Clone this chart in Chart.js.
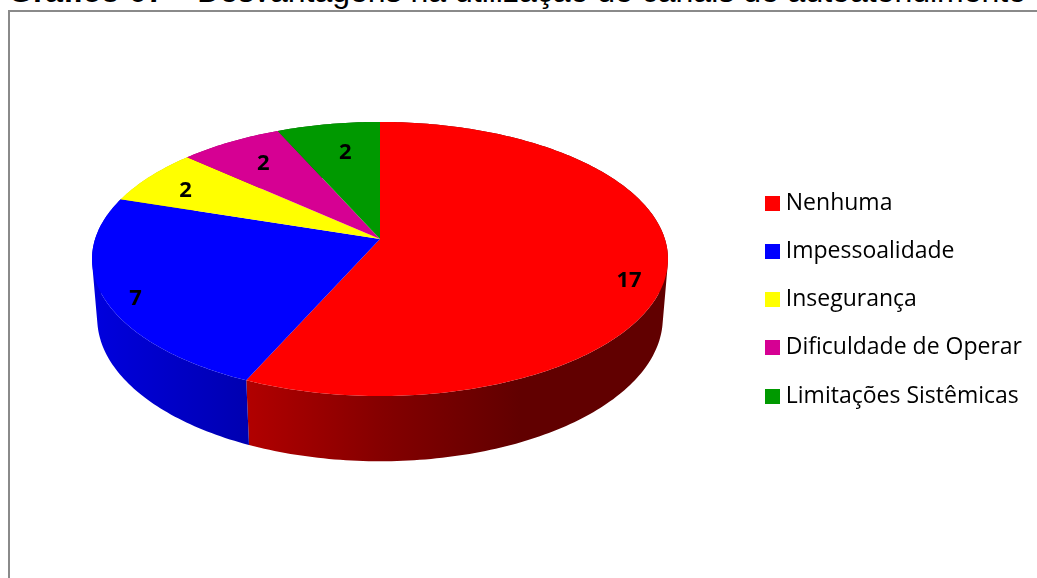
<!DOCTYPE html>
<html><head><meta charset="utf-8">
<style>
html,body{margin:0;padding:0;background:#fff;overflow:hidden;width:1037px;height:578px}
#frame{position:absolute;left:7.5px;top:10px;width:1200px;height:800px;border:2px solid #8a8a8a;box-sizing:border-box}
.t{position:absolute;top:-27px;white-space:nowrap;font:32px "Liberation Sans",Arial,sans-serif;color:#000}
canvas{position:absolute;left:0;top:0}
</style>
<script src="https://cdn.jsdelivr.net/npm/chart.js@4/dist/chart.umd.js"></script>
</head><body>
<div id="frame"></div>
<div class="t" style="left:8px;font-weight:bold">Gráfico 07</div>
<div class="t" style="left:197px">Desvantagens na utilização de canais de autoatendimento</div>
<canvas id="c" width="1037" height="578"></canvas>
<script>
const categories = ['Nenhuma','Impessoalidade','Insegurança','Dificuldade de Operar','Limitações Sistêmicas'];
const values = [17,7,2,2,2];
const colors = ['#ff0000','#0000ff','#ffff00','#d60093','#009900'];

// projection of the pie disc (style, not data)
const P = {cx:380, cy:239, A:284.9, B:134.1, p:0.146, q:0.018, H:59.7};
function proj(a, r, low){
  const u=Math.cos(a)*r, v=Math.sin(a)*r;
  const w=1-P.p*v+(low?P.q:0);
  return [P.cx+P.A*u/w, P.cy+(P.B*v+(low?P.H:0))/w];
}
const labelPlace = [[.87,0,17],[.89,0,8],[.85,3,5],[.76,0,0],[.7,3,-3]];
const shade = [[92,.87],[250,.69],[380,.52],[520,.38],[668,.38]];
const rgb = c=>[1,3,5].map(i=>parseInt(c.substr(i,2),16));
const area = q=>q.reduce((s,p,i)=>{const n=q[(i+1)%q.length];return s+p[0]*n[1]-n[0]*p[1];},0);

const pie3d = {
  id:'pie3d',
  beforeDatasetsDraw(chart){
    const ctx=chart.ctx, arcs=chart.getDatasetMeta(0).data;
    const STEP=Math.PI/180;
    const pts=(a0,a1,low)=>{const out=[],n=Math.max(2,Math.ceil((a1-a0)/STEP));
      for(let i=0;i<=n;i++) out.push(proj(a0+(a1-a0)*i/n,1,low)); return out;};
    // side wall: thin strips of one winding, filled as a single path
    arcs.forEach((arc,i)=>{
      const {startAngle:a0,endAngle:a1}=arc;
      const top=pts(a0,a1,false), bot=pts(a0,a1,true);
      const g=ctx.createLinearGradient(92,0,668,0), c=rgb(colors[i]);
      shade.forEach(([x,f])=>g.addColorStop((x-92)/576,`rgb(${c.map(k=>Math.round(k*f)).join(',')})`));
      ctx.beginPath();
      for(let k=0;k<top.length-1;k++){
        const q=[top[k],top[k+1],bot[k+1],bot[k]];
        if(area(q)<0) q.reverse();
        q.forEach(([x,y],j)=>j?ctx.lineTo(x,y):ctx.moveTo(x,y));
        ctx.closePath();
      }
      ctx.fillStyle=g; ctx.fill('nonzero');
    });
    // top face
    arcs.forEach((arc,i)=>{
      ctx.beginPath(); ctx.moveTo(P.cx,P.cy);
      pts(arc.startAngle,arc.endAngle,false).forEach(([x,y])=>ctx.lineTo(x,y));
      ctx.closePath(); ctx.fillStyle=colors[i]; ctx.fill();
    });
    // value labels
    ctx.font='bold 22px "Open Sans"'; ctx.fillStyle='#000';
    ctx.textAlign='center'; ctx.textBaseline='middle';
    arcs.forEach((arc,i)=>{
      const [r,dx,dy]=labelPlace[i];
      const [x,y]=proj((arc.startAngle+arc.endAngle)/2,r,false);
      ctx.fillText(String(values[i]),x+dx,y+dy);
    });
    return false;
  }
};

function swatch(color){
  const s=document.createElement('canvas'); s.width=15; s.height=15;
  const t=s.getContext('2d'); t.fillStyle=color; t.fillRect(0,0,15,15); return s;
}
const swatches = colors.map(swatch);

Chart.defaults.font.family='"Open Sans"';
new Chart(document.getElementById('c'),{
  type:'pie',
  data:{labels:categories,datasets:[{data:values,backgroundColor:colors,borderWidth:0}]},
  plugins:[pie3d],
  options:{
    responsive:false, animation:false,
    layout:{padding:{top:21,right:5,bottom:0,left:0}},
    plugins:{
      tooltip:{enabled:false},
      title:{display:false},
      legend:{
        position:'right', align:'center',
        labels:{
          usePointStyle:true, pointStyleWidth:4, boxHeight:15,
          color:'#000', padding:25.25, font:{size:23,family:'"Open Sans"'},
          generateLabels:chart=>categories.map((t,i)=>({text:t,fillStyle:colors[i],strokeStyle:colors[i],lineWidth:0,pointStyle:swatches[i],index:i,hidden:false}))
        }
      }
    }
  }
});
</script>
</body></html>
